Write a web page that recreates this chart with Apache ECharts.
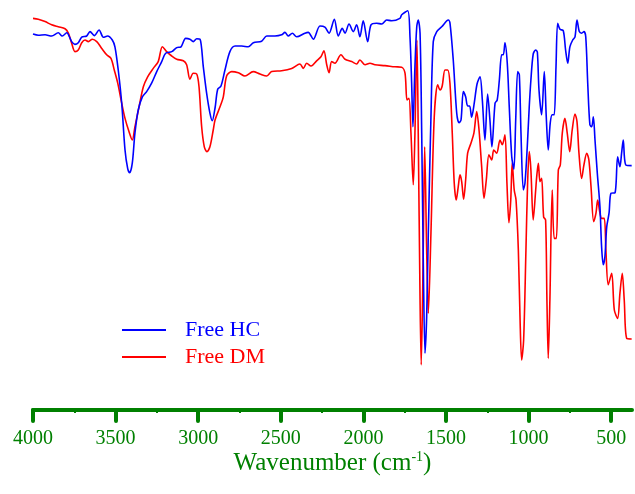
<!DOCTYPE html>
<html>
<head>
<meta charset="utf-8">
<script src="https://cdn.jsdelivr.net/npm/echarts@6/dist/echarts.min.js"></script>
<style>html,body{margin:0;padding:0;background:#fff}#c{width:635px;height:494px}</style>
</head>
<body>
<div id="c"></div>
<script>
const tickValues = [4000, 3500, 3000, 2500, 2000, 1500, 1000, 500];
const minorTickValues = [3750, 3250, 2750, 2250, 1750, 1250, 750];

const hcWave = [4000,3968,3927,3887,3847,3823,3796,3766,3746,3726,3705,3675,3655,3629,3600,3574,3548,3520,3504,3484,3463,3443,3427,3415,3399,3383,3363,3338,3312,3282,3251,3221,3197,3160,3130,3104,3076,3050,3030,3009,2989,2969,2949,2929,2915,2898,2882,2862,2838,2808,2777,2737,2697,2666,2616,2585,2535,2495,2475,2455,2430,2404,2354,2334,2303,2263,2233,2208,2176,2152,2128,2111,2087,2061,2041,2021,2001,1974,1954,1920,1889,1859,1829,1779,1768,1732,1718,1708,1700,1688,1677,1668,1657,1647,1637,1627,1617,1607,1591,1577,1556,1526,1486,1476,1456,1435,1421,1409,1395,1381,1369,1357,1345,1329,1312,1294,1280,1264,1248,1234,1222,1203,1190,1177,1163,1153,1143,1129,1117,1102,1089,1078,1066,1056,1046,1032,1022,1008,996,986,972,957,947,937,921,905,893,881,869,857,845,834,824,810,790,776,763,750,733,719,707,693,679,665,654,642,629,618,608,598,584,568,558,548,538,527,513,501,477,461,447,437,427,412,376];
const hcT = [94.0,93.7,93.8,93.5,94.3,93.5,94.3,92.1,91.4,91.8,93.2,93.5,94.6,93.6,95.0,93.2,93.5,92.5,90.8,85.0,76.7,65.0,60.4,59.3,61.7,69.2,75.0,78.3,79.6,81.7,84.6,87.1,89.2,89.6,90.6,90.8,92.9,92.7,92.1,92.8,92.7,85.8,79.2,74.2,72.3,75.5,80.2,81.0,85.0,89.6,91.0,91.0,90.8,91.8,92.2,93.5,93.5,93.8,94.4,93.5,94.2,93.3,94.2,94.4,92.7,96.0,95.7,94.2,97.7,93.5,95.4,94.2,96.5,94.6,96.3,93.3,97.3,92.1,96.3,96.7,96.5,97.5,97.3,97.9,98.8,99.8,93.3,81.8,70.8,85.8,95.8,97.5,94.2,69.3,35.8,14.2,23.3,44.3,73.3,92.1,94.6,95.8,97.5,96.8,87.5,74.2,71.8,72.5,79.6,78.3,76.0,76.0,73.2,76.7,81.5,83.3,77.5,67.5,79.0,72.5,65.8,76.7,77.5,82.5,88.8,88.8,91.8,86.7,75.8,63.3,60.2,72.5,84.6,83.8,69.2,55.0,56.7,65.8,75.8,82.5,89.0,90.0,89.5,80.0,73.8,84.6,73.3,65.0,71.7,73.8,73.8,85.8,96.7,95.2,94.8,90.0,86.7,90.8,92.5,93.3,97.5,94.6,94.2,94.6,93.3,81.7,71.3,70.8,73.3,67.5,59.2,50.8,40.8,36.3,38.3,45.8,49.2,54.2,54.3,63.3,60.8,64.2,67.5,61.3,61.1];

const dmWave = [4000,3968,3927,3887,3847,3806,3786,3766,3746,3726,3705,3685,3665,3641,3614,3584,3554,3528,3508,3487,3463,3443,3419,3399,3383,3358,3332,3306,3272,3242,3217,3191,3160,3130,3090,3070,3050,3030,3009,2995,2979,2963,2947,2929,2909,2898,2868,2848,2828,2797,2757,2717,2667,2626,2585,2555,2495,2434,2384,2364,2343,2317,2283,2257,2239,2222,2208,2192,2172,2136,2111,2071,2041,2021,1990,1960,1930,1869,1809,1768,1748,1736,1724,1712,1698,1688,1676,1668,1657,1650,1639,1629,1617,1607,1591,1571,1550,1536,1523,1506,1490,1476,1462,1450,1438,1426,1415,1405,1393,1381,1369,1349,1331,1314,1300,1284,1270,1256,1240,1223,1211,1193,1173,1159,1143,1131,1119,1108,1099,1087,1076,1062,1052,1042,1030,1016,1006,996,986,972,957,951,941,931,921,909,897,889,881,871,857,845,832,820,808,796,780,766,751,736,719,707,695,679,665,648,635,622,606,592,582,568,558,542,532,518,497,481,461,447,433,421,406,376];
const dmT = [97.9,97.7,97.1,96.3,95.8,95.3,94.2,91.7,89.6,90.0,91.8,92.5,92.1,92.7,92.1,90.4,88.8,87.9,85.0,81.7,76.7,72.9,69.6,67.5,70.8,75.8,80.8,83.3,85.4,87.1,90.8,89.6,88.5,87.7,87.3,86.3,82.7,84.2,84.0,80.8,70.8,65.8,64.6,65.8,70.0,72.5,75.8,78.3,83.5,84.6,84.3,83.5,84.6,84.0,83.5,84.6,84.8,85.4,86.5,85.4,86.7,86.0,87.3,88.3,89.8,86.3,84.3,87.1,86.7,88.8,87.7,87.1,86.5,87.5,86.3,86.7,86.3,86.1,85.8,85.7,84.2,77.5,77.9,69.2,56.3,69.2,92.5,69.3,27.5,11.3,35.8,65.8,40.0,24.2,44.3,73.3,81.3,80.0,81.0,85.0,85.0,81.7,69.2,56.7,52.5,55.8,58.8,57.1,52.7,57.5,64.2,66.7,69.2,74.6,70.0,60.8,52.9,57.5,63.8,62.5,65.0,64.2,67.5,66.3,68.8,56.7,46.8,52.5,61.8,55.0,52.5,40.0,23.3,12.5,17.5,40.0,56.7,64.6,60.0,47.5,55.0,58.3,61.7,57.1,57.9,48.3,47.5,27.5,12.9,27.5,55.0,42.9,42.9,60.0,61.3,69.2,72.9,69.2,64.6,70.0,74.0,72.1,64.2,57.9,61.3,64.2,62.5,55.8,47.1,49.2,52.5,49.2,47.9,47.9,40.0,31.3,34.2,25.0,22.9,29.2,34.2,27.5,17.9,17.75];

const seriesNames = ['Free HC', 'Free DM'];
const GREEN = '#008000';
const FONT = '"Liberation Serif", "Times New Roman", serif';

const zip = (a, b) => a.map((x, i) => [x, b[i]]);

const chart = echarts.init(document.getElementById('c'), null, {renderer: 'canvas'});
chart.setOption({
  animation: false,
  backgroundColor: '#ffffff',
  grid: {left: 33, right: 3, top: 10, bottom: 84, containLabel: false},
  legend: {
    orient: 'vertical',
    left: 117,
    top: 314,
    itemWidth: 44,
    itemHeight: 2,
    itemGap: 5,
    icon: 'rect',
    textStyle: {fontFamily: FONT, fontSize: 22, padding: [0, 0, 0, 14]},
    data: [
      {name: seriesNames[0], textStyle: {color: '#0000ff'}},
      {name: seriesNames[1], textStyle: {color: '#ff0000'}}
    ]
  },
  xAxis: [{
    type: 'value',
    min: 374,
    max: 4000,
    inverse: true,
    position: 'bottom',
    splitLine: {show: false},
    axisLine: {show: true, lineStyle: {color: GREEN, width: 4, cap: 'round'}},
    axisTick: {show: true, customValues: tickValues, length: 11, lineStyle: {color: GREEN, width: 4, cap: 'round'}},
    axisLabel: {customValues: tickValues, margin: 19, color: GREEN, fontFamily: FONT, fontSize: 20,
      formatter: v => String(v)},
    name: '{a|Wavenumber (cm}{s|-1}{a|)}',
    nameLocation: 'middle',
    nameGap: 40,
    nameMoveOverlap: false,
    nameTextStyle: {
      rich: {
        a: {fontFamily: FONT, fontSize: 25, color: GREEN},
        s: {fontFamily: FONT, fontSize: 14, color: GREEN, verticalAlign: 'top', padding: [0, 0, 12, 0]}
      }
    }
  }, {
    type: 'value',
    min: 374,
    max: 4000,
    inverse: true,
    position: 'bottom',
    splitLine: {show: false},
    axisLine: {show: false},
    axisTick: {show: true, customValues: minorTickValues, length: 3, lineStyle: {color: GREEN, width: 2}},
    axisLabel: {show: false}
  }],
  yAxis: {
    type: 'value',
    min: 0,
    max: 100,
    show: false,
    splitLine: {show: false}
  },
  series: [
    {
      name: seriesNames[0], type: 'line', data: zip(hcWave, hcT), showSymbol: false, symbol: 'none', smooth: 0.3,
      lineStyle: {color: '#0000ff', width: 1.6}, itemStyle: {color: '#0000ff'}, z: 3
    },
    {
      name: seriesNames[1], type: 'line', data: zip(dmWave, dmT), showSymbol: false, symbol: 'none', smooth: 0.3,
      lineStyle: {color: '#ff0000', width: 1.6}, itemStyle: {color: '#ff0000'}, z: 2
    }
  ]
});
</script>
</body>
</html>
